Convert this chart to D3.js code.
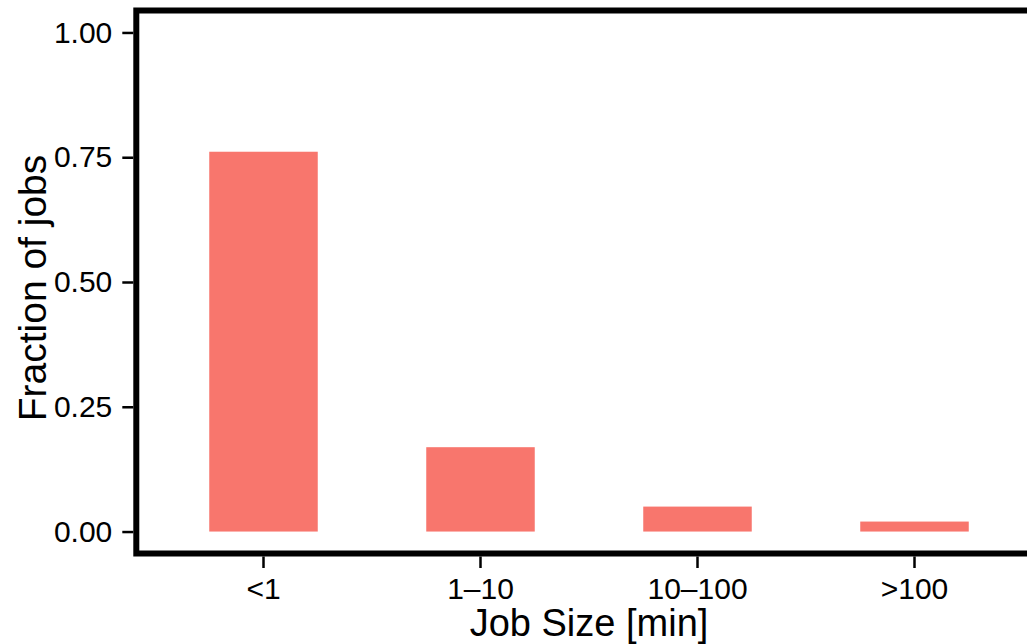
<!DOCTYPE html>
<html>
<head>
<meta charset="utf-8">
<script src="https://cdn.jsdelivr.net/npm/d3@7"></script>
<style>
  html, body { margin: 0; padding: 0; background: #fff; }
  svg { display: block; font-family: "Liberation Sans", Arial, Helvetica, sans-serif; }
</style>
</head>
<body>
<svg id="chart" width="1027" height="644"></svg>
<script>
// Share of jobs by job size
const categories = ["<1", "1–10", "10–100", ">100"];
const fractions = [0.761, 0.169, 0.050, 0.020];
const yTicks = [0, 0.25, 0.5, 0.75, 1.0];
const yTickLabels = ["0.00", "0.25", "0.50", "0.75", "1.00"];

const svg = d3.select("#chart");
const panel = { left: 133.3, right: 1044.7, top: 7.5, bottom: 556.5 };

const x = d3.scaleBand()
  .domain(categories)
  .range([panel.left, panel.right])
  .paddingInner(0.5)
  .paddingOuter(0.35);

const y = d3.scaleLinear()
  .domain([-0.05, 1.05])
  .range([panel.bottom, panel.top]);

// bars
svg.append("g")
  .selectAll("rect")
  .data(categories.map((c, i) => ({ c, v: fractions[i] })))
  .join("rect")
  .attr("x", d => x(d.c))
  .attr("width", x.bandwidth())
  .attr("y", d => y(d.v))
  .attr("height", d => y(0) - y(d.v))
  .attr("fill", "#F8766D");

// panel border
const bw = 6;
svg.append("rect")
  .attr("x", panel.left + bw / 2)
  .attr("y", panel.top + bw / 2)
  .attr("width", panel.right - panel.left - bw)
  .attr("height", panel.bottom - panel.top - bw)
  .attr("fill", "none")
  .attr("stroke", "#000")
  .attr("stroke-width", bw);

// y axis
const yAxis = svg.append("g")
  .attr("transform", `translate(${panel.left},0)`)
  .call(d3.axisLeft(y)
    .tickValues(yTicks)
    .tickFormat((d, i) => yTickLabels[i])
    .tickSize(11)
    .tickPadding(10));

// x axis
const xAxis = svg.append("g")
  .attr("transform", `translate(0,${panel.bottom})`)
  .call(d3.axisBottom(x)
    .tickSize(11.5)
    .tickPadding(10));

[yAxis, xAxis].forEach(g => {
  g.select(".domain").remove();
  g.selectAll(".tick line").attr("stroke", "#000").attr("stroke-width", 2.5);
  g.selectAll(".tick text")
    .attr("fill", "#000")
    .style("font-size", "30px")
    .style("font-family", "'Liberation Sans', Arial, Helvetica, sans-serif");
});

// axis titles
svg.append("text")
  .attr("x", (panel.left + panel.right) / 2)
  .attr("y", 636)
  .attr("text-anchor", "middle")
  .style("font-size", "38px")
  .attr("fill", "#000")
  .text("Job Size [min]");

svg.append("text")
  .attr("transform", `translate(46,288) rotate(-90)`)
  .attr("text-anchor", "middle")
  .style("font-size", "39px")
  .attr("fill", "#000")
  .text("Fraction of jobs");
</script>
</body>
</html>
